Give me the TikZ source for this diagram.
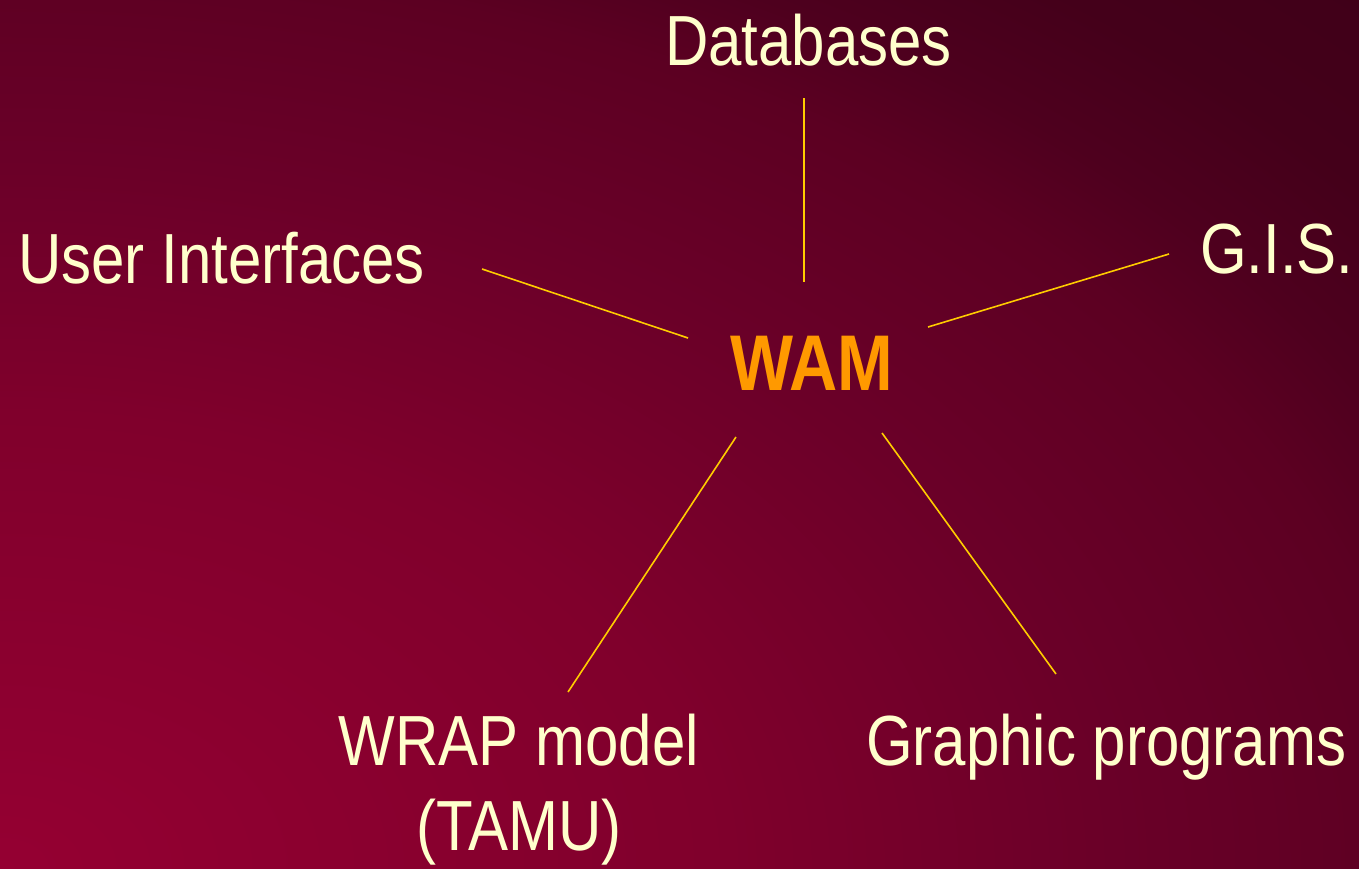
\documentclass[tikz,border=0pt]{standalone}
\usepackage{fontspec}
\setmainfont{Liberation Sans}[FakeStretch=0.845]
\definecolor{labeltext}{RGB}{255,255,204}
\definecolor{hubtext}{RGB}{255,153,0}
\definecolor{spokecol}{RGB}{255,204,0}
% glow from the lower left corner, fading to deep maroon
\pgfdeclareradialshading{maroonglow}{\pgfpoint{0bp}{0bp}}{%
  rgb(0bp)=(0.584,0,0.196);
  rgb(9.2bp)=(0.502,0,0.172);
  rgb(14.4bp)=(0.416,0,0.157);
  rgb(18.4bp)=(0.361,0,0.133);
  rgb(20.2bp)=(0.306,0,0.118);
  rgb(22.4bp)=(0.267,0,0.102);
  rgb(28.8bp)=(0.227,0,0.086);
  rgb(50bp)=(0.227,0,0.086)}
\tikzset{
  label/.style={inner sep=0pt, text=labeltext, font=\fontsize{71bp}{85bp}\selectfont},
  hub/.style={inner sep=0pt, text=hubtext, font=\fontsize{79bp}{90bp}\selectfont\bfseries},
  spoke/.style={draw=spokecol, line width=1.6bp},
}
\begin{document}
\begin{tikzpicture}[x=1bp, y=-1bp]
  \useasboundingbox (0,0) rectangle (1359,868);
  \begin{scope}
    \clip (0,0) rectangle (1359,868);
    \shade[shading=maroonglow] (-1930,-365) rectangle (1930,2101);
  \end{scope}

  % labels
  \node[hub, anchor=base west] (wam) at (730,390) {WAM};
  \node[label, anchor=base west] (db) at (665,65) {Databases};
  \node[label, anchor=base west] (ui) at (18,283) {User Interfaces};
  \node[label, anchor=base west] (gis) at (1200,273) {G.I.S.};
  \node[label, anchor=base, align=center] (wrap) at (519,850) {WRAP model\\(TAMU)};
  \node[label, anchor=base west] (gp) at (866,765) {Graphic programs};

  % spoke end points
  \coordinate (db-s) at (804,98);
  \coordinate (wam-n) at (804,282);
  \coordinate (ui-e) at (482,269);
  \coordinate (wam-w) at (688,338);
  \coordinate (gis-w) at (1169,254);
  \coordinate (wam-e) at (928,327);
  \coordinate (wam-sw) at (736,437);
  \coordinate (wrap-n) at (568,692);
  \coordinate (wam-se) at (882,433);
  \coordinate (gp-n) at (1056,674);

  % spokes
  \draw[spoke] (db-s) -- (wam-n);
  \draw[spoke] (ui-e) -- (wam-w);
  \draw[spoke] (wam-e) -- (gis-w);
  \draw[spoke] (wam-sw) -- (wrap-n);
  \draw[spoke] (wam-se) -- (gp-n);
\end{tikzpicture}
\end{document}
